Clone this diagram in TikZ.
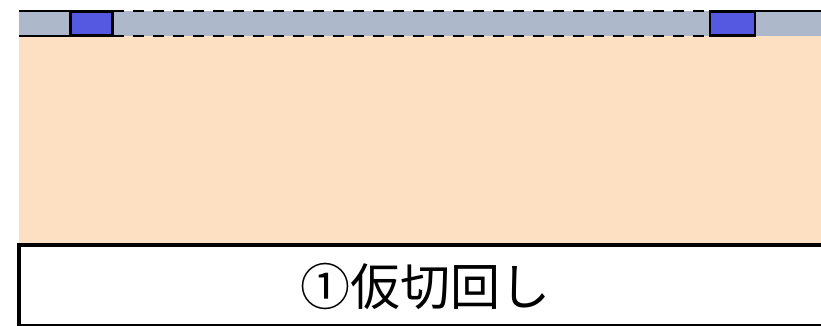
\documentclass[tikz,border=0pt]{standalone}
\usepackage{fontspec}
\newfontfamily\cjk{Noto Sans CJK JP}
\definecolor{bandgrey}{RGB}{173,185,202}
\definecolor{blockblue}{RGB}{85,88,224}
\definecolor{soilpeach}{RGB}{253,223,194}
\begin{document}
\begin{tikzpicture}[x=1pt,y=-1pt,
  solidedge/.style={line width=2.6pt},
  dashedge/.style={line width=2.4pt,dash pattern=on 11pt off 9pt},
  blockbox/.style={fill=blockblue,draw=black,line width=2.6pt},
  labelbox/.style={fill=white,draw=black,line width=3.8pt}]
\useasboundingbox (0,0) rectangle (821,326);
% soil
\fill[soilpeach] (19,36) rectangle (821,244);
% grey band
\fill[bandgrey] (19,11) rectangle (821,36);
\coordinate (tl) at (19,11);
\coordinate (bl) at (19,36);
\coordinate (tr) at (825,11);
\draw[solidedge] (tl) -- (113,11);
\draw[solidedge] (bl) -- (113,36);
\draw[dashedge] (113,11) -- (710,11);
\draw[dashedge] (113,36) -- (710,36);
\draw[solidedge] (710,11) -- (tr);
% blocks
\node[blockbox,minimum width=42pt,minimum height=24pt,inner sep=0pt] (lb) at (91.5,23.5) {};
\node[blockbox,minimum width=45pt,minimum height=24pt,inner sep=0pt] (rb) at (732.5,23.5) {};
% label box
\draw[labelbox] (19,245) rectangle (830,325.5);
\node[font=\cjk\fontsize{50}{54}\selectfont] (lbl) at (425,286) {①仮切回し};
\end{tikzpicture}
\end{document}
